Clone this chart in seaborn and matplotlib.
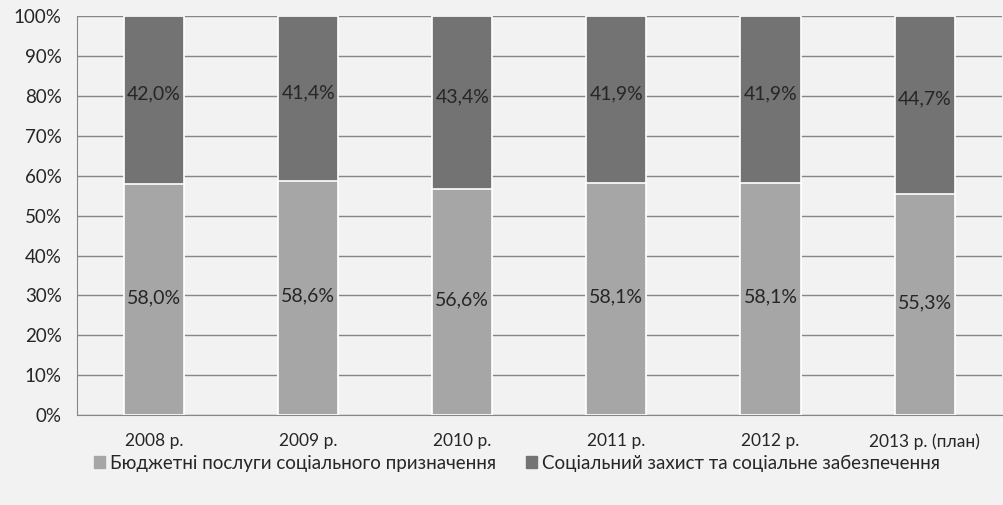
import numpy as np
import pandas as pd
import matplotlib
matplotlib.use("Agg")
import matplotlib.pyplot as plt
import seaborn as sns

years = ["2008 р.", "2009 р.", "2010 р.", "2011 р.", "2012 р.", "2013 р. (план)"]
budget_services = [58.0, 58.6, 56.6, 58.1, 58.1, 55.3]
social_protection = [42.0, 41.4, 43.4, 41.9, 41.9, 44.7]
series_names = ["Бюджетні послуги соціального призначення",
                "Соціальний захист та соціальне забезпечення"]

light = "#a6a6a6"
dark = "#737373"
bg = "#f2f2f2"

sns.set_style("white")
plt.rcParams['font.family'] = ['Lato', 'DejaVu Sans']

df = pd.DataFrame({"year": years, "light": budget_services,
                   "dark": social_protection})
df["total"] = df["light"] + df["dark"]

fig = plt.figure(figsize=(10.04, 5.05), dpi=100, facecolor=bg)
ax = fig.add_axes([0.0767, 0.178, 0.921, 0.79])
ax.set_facecolor(bg)

sns.barplot(data=df, x="year", y="total", color=dark, width=0.39,
            edgecolor="white", linewidth=1.2, saturation=1, ax=ax, zorder=3)
sns.barplot(data=df, x="year", y="light", color=light, width=0.39,
            edgecolor="white", linewidth=1.2, saturation=1, ax=ax, zorder=3)

for i, (a, b) in enumerate(zip(budget_services, social_protection)):
    ax.text(i, a / 2 + 0.5, f"{a:.1f}%".replace(".", ","), ha="center", va="center",
            fontsize=14, color="#262626", zorder=4)
    ax.text(i, a + b / 2 + 1.5, f"{b:.1f}%".replace(".", ","), ha="center", va="center",
            fontsize=14, color="#262626", zorder=4)

ax.set_ylim(0, 100)
ax.set_xlim(-0.5, len(years) - 0.5)
ax.set_yticks(np.arange(0, 101, 10))
ax.set_yticklabels([f"{v}%" for v in range(0, 101, 10)])
ax.yaxis.grid(True, color="#868686", linewidth=1)
ax.set_axisbelow(True)
ax.set_xlabel("")
ax.set_ylabel("")
for s in ["top", "right"]:
    ax.spines[s].set_visible(False)
ax.spines["left"].set_color("#868686")
ax.spines["bottom"].set_color("#868686")
ax.tick_params(axis="y", length=7, color="#868686", labelsize=13.5,
               labelcolor="#262626", pad=4)
ax.set_xticks(np.arange(-0.5, len(years), 1), minor=True)
ax.tick_params(axis="x", which="major", length=0, labelsize=12.5,
               labelcolor="#262626", pad=13)
ax.tick_params(axis="x", which="minor", length=6, color="#868686")

handles = [plt.Rectangle((0, 0), 1, 1, color=light),
           plt.Rectangle((0, 0), 1, 1, color=dark)]
fig.legend(handles, series_names,
           loc="center", bbox_to_anchor=(0.515, 0.083), ncol=2, frameon=False,
           fontsize=13.5, handlelength=0.6, handleheight=0.6, handletextpad=0.25,
           columnspacing=1.6, labelcolor="#262626")

fig.savefig("out.png", dpi=100, facecolor=bg)
